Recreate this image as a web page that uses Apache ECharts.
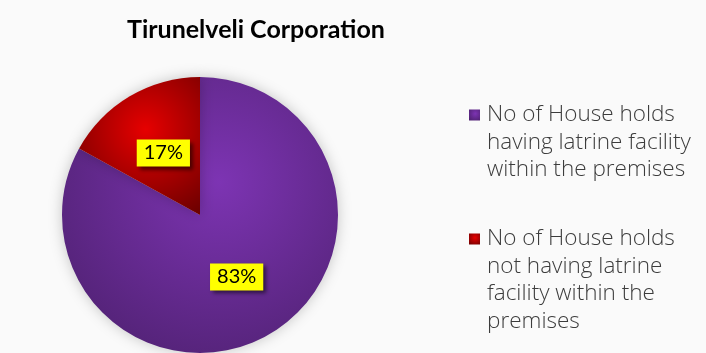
<!DOCTYPE html>
<html>
<head>
<meta charset="utf-8">
<script src="https://cdn.jsdelivr.net/npm/echarts@6/dist/echarts.min.js"></script>
<style>
html,body{margin:0;padding:0;background:#fafafa;}
#chart{width:706px;height:353px;}
</style>
</head>
<body>
<div id="chart"></div>
<script>
const titleText = 'Tirunelveli Corporation';
const categories = [
  'No of House holds having latrine facility within the premises',
  'No of House holds not having latrine facility within the premises'
];
const legendLines = [
  ['No of House holds', 'having latrine facility', 'within the premises'],
  ['No of House holds', 'not having latrine', 'facility within the', 'premises']
];
const values = [83, 17];

const FONT = 'Lato';
const LEGEND_FONT = 'Open Sans';
const LH = 27.5;
const purple = {
  type: 'radial', x: 0.57, y: 0.38, r: 0.75,
  colorStops: [{offset: 0, color: '#7d34b3'}, {offset: 1, color: '#4f2171'}]
};
const red = {
  type: 'radial', x: 0.55, y: 0.38, r: 0.8,
  colorStops: [{offset: 0, color: '#e60000'}, {offset: 1, color: '#6e0000'}]
};
const colors = [purple, red];
const legendCenters = [115, 239];
const iconLeft = 469;
const textLeft = 482;
const ICON = 11;

const iconLegends = categories.map(function (name, i) {
  return {
    orient: 'vertical',
    left: iconLeft,
    top: legendCenters[i] - ICON / 2,
    padding: 0,
    icon: 'rect',
    itemWidth: ICON,
    itemHeight: ICON,
    selectedMode: false,
    data: [name],
    formatter: function () { return ''; },
    textStyle: {fontSize: 1}
  };
});
const textLegends = categories.map(function (name, i) {
  return {
    orient: 'vertical',
    left: textLeft,
    top: legendCenters[i] - LH / 2,
    padding: 0,
    icon: 'none',
    itemWidth: 0,
    itemHeight: 0,
    selectedMode: false,
    data: [name],
    formatter: function () { return legendLines[i].join('\n'); },
    textStyle: {
      fontFamily: LEGEND_FONT,
      fontWeight: 300,
      fontSize: 22.5,
      lineHeight: LH,
      color: '#3c3c3c'
    }
  };
});

const chart = echarts.init(document.getElementById('chart'));
chart.setOption({
  animation: false,
  backgroundColor: '#fafafa',
  title: {
    text: titleText,
    left: 122,
    top: 12,
    textStyle: {fontFamily: FONT, fontWeight: 'bold', fontSize: 25, color: '#000'}
  },
  legend: iconLegends.concat(textLegends),
  series: [{
    type: 'pie',
    center: [200, 215],
    radius: 138,
    startAngle: 90,
    clockwise: true,
    silent: true,
    data: categories.map(function (name, i) {
      return {name: name, value: values[i], itemStyle: {color: colors[i]}};
    }),
    itemStyle: {
      borderWidth: 0,
      shadowBlur: 14,
      shadowColor: 'rgba(0,0,0,0.22)'
    },
    label: {
      show: true,
      position: 'inside',
      formatter: '{c}%',
      fontFamily: FONT,
      fontSize: 20,
      color: '#000',
      backgroundColor: '#ffff00',
      padding: [4, 7, 3, 7],
      shadowColor: 'rgba(0,0,0,0.55)',
      shadowBlur: 4,
      shadowOffsetX: 3,
      shadowOffsetY: 3
    },
    labelLine: {show: false}
  }]
});
</script>
</body>
</html>
